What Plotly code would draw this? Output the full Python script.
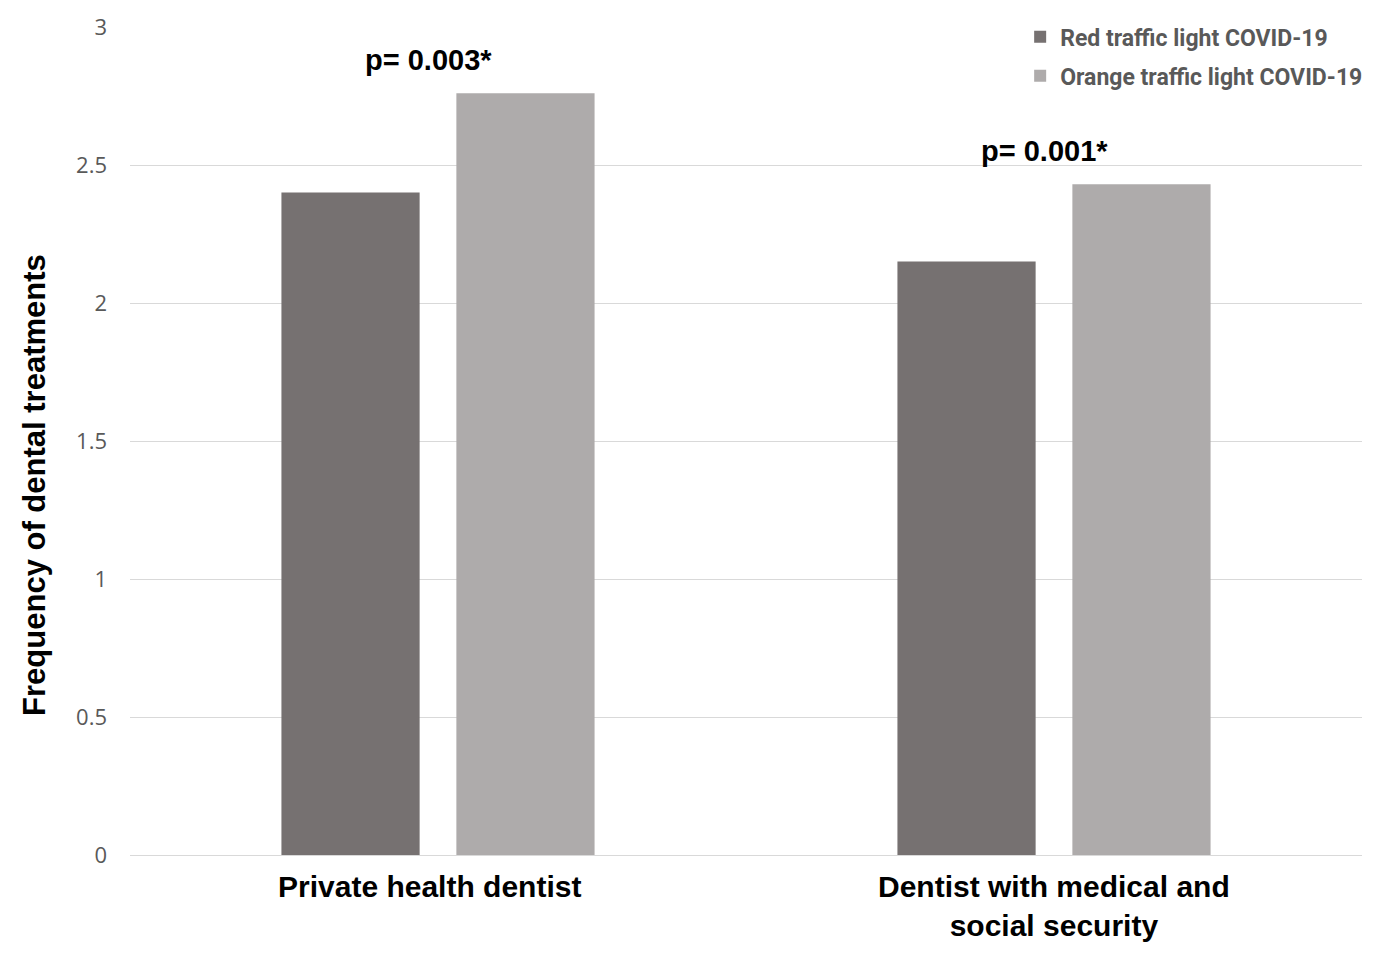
import plotly.graph_objects as go

categories = ["Private health dentist", "Dentist with medical and<br>social security"]
series_names = ["Red traffic light COVID-19", "Orange traffic light COVID-19"]
red_values = [2.40, 2.15]
orange_values = [2.76, 2.43]
p_labels = ["p= 0.003*", "p= 0.001*"]
p_label_y = [2.88, 2.55]
y_ticks = [0, 0.5, 1, 1.5, 2, 2.5, 3]
y_title = "Frequency of dental treatments"

fig = go.Figure()
fig.add_trace(go.Bar(x=categories, y=red_values, name=series_names[0], legendgroup="a",
                     marker=dict(color="#767171", line=dict(width=0))))
fig.add_trace(go.Bar(x=categories, y=orange_values, name=series_names[1], legendgroup="b",
                     marker=dict(color="#AEABAB", line=dict(width=0))))

for c, t, yy in zip(categories, p_labels, p_label_y):
    fig.add_annotation(x=c, y=yy, xref="x", yref="y", text=f"<b>{t}</b>",
                       showarrow=False, font=dict(family="Liberation Sans", size=29, color="#000000"),
                       xshift=-10)

# category labels
label_shift = [-9, 0]
for c, s in zip(categories, label_shift):
    fig.add_annotation(x=c, y=0, xref="x", yref="y", text=f"<b>{c}</b>",
                       showarrow=False, yanchor="top", yshift=-13, xshift=s,
                       font=dict(family="Liberation Sans", size=30, color="#000000"))

# y-axis title
fig.add_annotation(x=-0.0771, y=0.447, xref="paper", yref="paper", text=f"<b>{y_title}</b>",
                   showarrow=False, textangle=-90, xanchor="center", yanchor="middle",
                   font=dict(family="Liberation Sans", size=31, color="#000000"))

fig.update_layout(
    width=1387, height=967,
    margin=dict(l=122, r=33, t=19, b=120, autoexpand=False),
    paper_bgcolor="white", plot_bgcolor="white",
    barmode="group", bargap=0.432, bargroupgap=0.21,
    showlegend=True,
    legend=dict(x=1.005, y=1.014, xanchor="right", yanchor="top",
                font=dict(family="Roboto", size=23, color="#595959", weight="bold"),
                bgcolor="rgba(0,0,0,0)", itemsizing="constant", itemwidth=30,
                tracegroupgap=6),
    xaxis=dict(showticklabels=False,
               showline=True, linecolor="#D9D9D9", linewidth=1, ticks=""),
    yaxis=dict(range=[0, 3], tickvals=y_ticks, ticktext=[str(v) for v in y_ticks],
               tickfont=dict(family="Open Sans", size=22, color="#595959"),
               showgrid=True, gridcolor="#D9D9D9", gridwidth=1, zeroline=False,
               ticklabelstandoff=22, automargin=False),
)

fig.write_html("out.html")
